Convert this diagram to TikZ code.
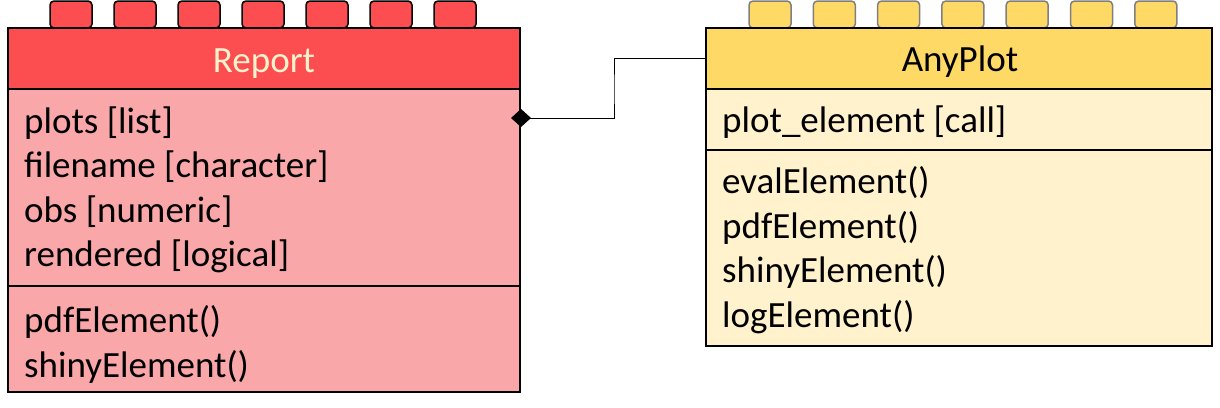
\documentclass[tikz,border=0pt]{standalone}
\usepackage{fontspec}
\setmainfont{Carlito}
\usetikzlibrary{arrows.meta}
\definecolor{rheadc}{HTML}{FC4E51}
\definecolor{rbodyc}{HTML}{F9A7A8}
\definecolor{aheadc}{HTML}{FFD966}
\definecolor{abodyc}{HTML}{FFF2CC}
\definecolor{creamc}{HTML}{FFF2CC}
\definecolor{tabgray}{HTML}{7F7F7F}
\begin{document}
\begin{tikzpicture}[x=1pt,y=-1pt,
  sect/.style={draw=black, line width=2pt, rectangle, inner sep=0pt, outer sep=0pt, anchor=north west},
  tabbox/.style={rectangle, rounded corners=4pt, line width=1.5pt, minimum width=42pt, minimum height=27pt, inner sep=0pt},
  txt/.style={anchor=base west, inner sep=0pt, font=\fontsize{37}{45}\selectfont},
  ttl/.style={anchor=base, inner sep=0pt, font=\fontsize{37}{45}\selectfont},
  conn/.style={draw=black, line width=1pt}
]
\useasboundingbox (0,0) rectangle (1220,407);
% tabs
\foreach \i in {0,...,6} {
  \node[tabbox, fill=rheadc, draw=black] (rt\i) at (71+64*\i, 14.5) {};
  \node[tabbox, fill=aheadc, draw=tabgray] (at\i) at (770+64.3*\i, 14.5) {};
}
% Report
\node[sect, fill=rheadc, minimum width=512pt, minimum height=61pt] (rh) at (8,28) {};
\node[sect, fill=rbodyc, minimum width=512pt, minimum height=197pt] (ra) at (8,89) {};
\node[sect, fill=rbodyc, minimum width=512pt, minimum height=106pt] (rm) at (8,286) {};
\node[ttl, text=creamc] (rtitle) at (264,72) {Report};
\node[txt] (ra1) at (24,133) {plots [list]};
\node[txt] (ra2) at (24,177.5) {filename [character]};
\node[txt] (ra3) at (24,222) {obs [numeric]};
\node[txt] (ra4) at (24,266.5) {rendered [logical]};
\node[txt] (rm1) at (24,332.5) {pdfElement()};
\node[txt] (rm2) at (24,377) {shinyElement()};
% AnyPlot
\node[sect, fill=aheadc, minimum width=506pt, minimum height=61pt] (ah) at (706,28) {};
\node[sect, fill=abodyc, minimum width=506pt, minimum height=61pt] (aa) at (706,89) {};
\node[sect, fill=abodyc, minimum width=506pt, minimum height=196pt] (am) at (706,150) {};
\node[ttl] (atitle) at (960,71) {AnyPlot};
\node[txt] (aa1) at (722,132.5) {plot\_element [call]};
\node[txt] (am1) at (722,193.5) {evalElement()};
\node[txt] (am2) at (722,238) {pdfElement()};
\node[txt] (am3) at (722,282.5) {shinyElement()};
\node[txt] (am4) at (722,327) {logElement()};
% connector
\coordinate (dia) at (511,118);
\coordinate (bend) at (614,90);
\draw[conn, {Diamond[length=20pt,width=18pt,fill=black]}-] (dia) -| (bend) |- (ah.west);
\end{tikzpicture}
\end{document}
